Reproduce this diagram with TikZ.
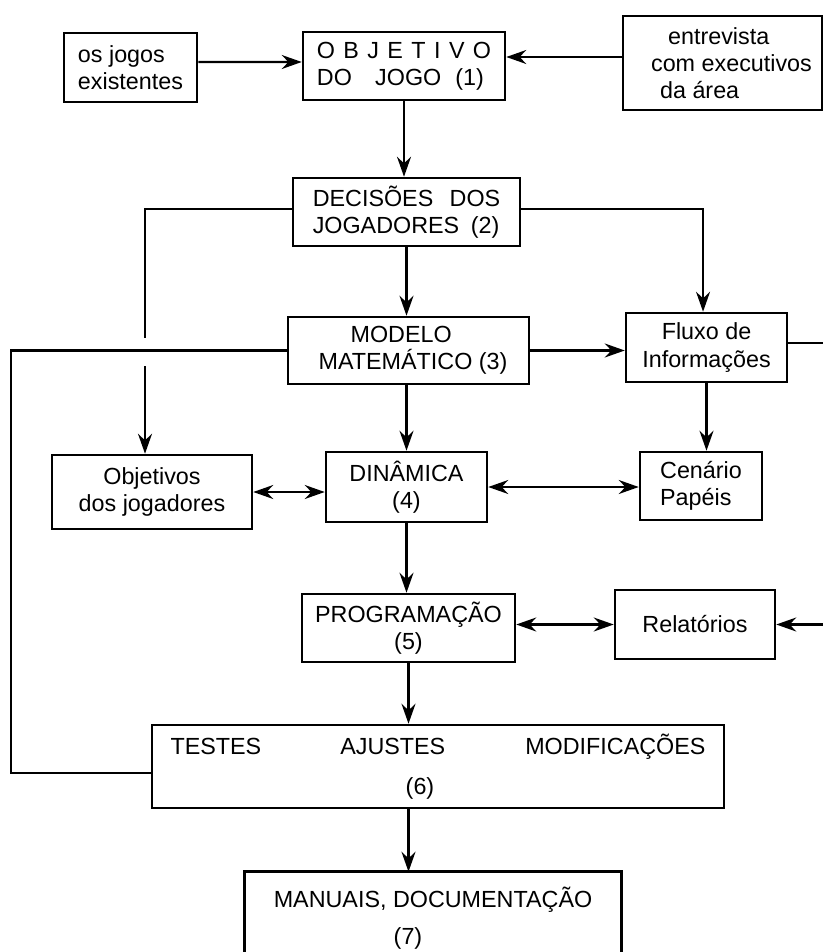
\documentclass[tikz,border=0pt]{standalone}
\usepackage{fontspec}
\setmainfont{Liberation Sans}
\usetikzlibrary{arrows.meta,calc}
\newcommand\lsp{\hspace{0.36em}}
\begin{document}
\begin{tikzpicture}[x=0.75pt,y=-0.75pt,
  box/.style 2 args={draw, line width=1.9pt, minimum width=#1*0.75pt, minimum height=#2*0.75pt,
    inner sep=0pt, font=\fontsize{17.5}{20.5}\selectfont},
  ln/.style={line width=1.8pt},
  tip/.style={},
  arr/.style={ln, -{Stealth[length=15pt,width=10.5pt,inset=5pt]}},
  darr/.style={ln, {Stealth[length=15pt,width=10.5pt,inset=5pt]}-{Stealth[length=15pt,width=10.5pt,inset=5pt]}}]
\path[fill=white] (0,0) rectangle (823,952);
\useasboundingbox (0,0) rectangle (823,952);

\node[box={133}{69}, align=left] (jogos) at (130.5,67.5) {os jogos\\existentes};
\node[box={202}{68}, align=left] (obj) at (404,66) {O\lsp B\lsp J\lsp E\lsp T\lsp I\lsp V\lsp O\\DO\hspace{1em}JOGO\hspace{0.6em}(1)};
\node[box={199}{94}, align=left] (entre) at (722.5,63) {\hspace*{26.25pt}entrevista\\\hspace*{13.5pt}com executivos\\\hspace*{20.25pt}da área};
\node[box={227}{68}, align=left] (dec) at (406.5,212) {DECISÕES\hspace{0.7em}DOS\\JOGADORES\hspace{0.5em}(2)};
\node[box={241}{67}, align=left] (mod) at (408.5,350.5) {\hspace*{30.75pt}MODELO\\\hspace*{6.75pt}MATEMÁTICO (3)};
\node[box={161}{69}, align=center] (flux) at (706.5,347.5) {Fluxo de\\Informações};
\node[box={200}{74}, align=center] (objv) at (152,492) {Objetivos\\dos jogadores};
\node[box={161}{70}, align=center] (dina) at (406.5,487) {DINÂMICA\\(4)};
\node[box={122}{68}, align=left] (cen) at (701,486) {Cenário\\Papéis};
\node[box={213}{68}, align=center] (prog) at (408.5,628) {PROGRAMAÇÃO\\(5)};
\node[box={160}{69}, align=center] (rel) at (695,624.5) {Relatórios};
\node[box={572}{83}, align=center] (test) at (438,766.5) {TESTES\hspace{59.25pt}AJUSTES\hspace{60pt}MODIFICAÇÕES\\[9.5pt](6)\hspace*{27pt}};
\node[box={374}{90}, draw=none, align=center] (man) at (433,918) {MANUAIS, DOCUMENTAÇÃO\\[7pt](7)\hspace*{37.5pt}};

\coordinate (bot) at (0,952);
\coordinate (eR1) at (823,343);
\coordinate (eR2) at (823,624.5);
\coordinate (lpA) at (11,352);
\coordinate (lpB) at (11,773);

% open-bottom box of (7)
\draw[line width=1.9pt] (man.north west |- bot) -- (man.north west) -- (man.north east) -- (man.north east |- bot);

% connectors
\draw[arr] ([yshift=4.1pt]jogos.east) -- ([yshift=3pt]obj.west);
\draw[arr] ([yshift=4.5pt]entre.west) -- ([yshift=6.75pt]obj.east);
\draw[arr] (obj.south) -- (obj.south |- dec.north);
\draw[arr] (dec.south) -- (dec.south |- mod.north);
\draw[arr] ([yshift=2.25pt]dec.west) -| ([xshift=-5.25pt]objv.north);
\draw[arr] ([yshift=2.25pt]dec.east) -| ([xshift=-2.6pt]flux.north);
\fill[white] (136,338) rectangle (154,366);
\draw[ln] (mod.west) -- (mod.west -| lpA) -- (lpA |- lpB) -- (test.west |- lpB);
\draw[arr] (mod.east) -- (mod.east -| flux.west);
\draw[ln] (flux.east |- eR1) -- (eR1);
\draw[arr] (eR2) -- (rel.east);
\draw[arr] (dina.north |- mod.south) -- (dina.north);
\draw[arr] (flux.south) -- (flux.south |- cen.north);
\draw[darr] (objv.east) -- (objv.east -| dina.west);
\draw[darr] (dina.east) -- (dina.east -| cen.west);
\draw[arr] (dina.south) -- (dina.south |- prog.north);
\draw[darr] (prog.east |- rel.west) -- (rel.west);
\draw[arr] (prog.south) -- (prog.south |- test.north);
\draw[arr] (prog.south |- test.south) -- (prog.south |- man.north);
\end{tikzpicture}
\end{document}
